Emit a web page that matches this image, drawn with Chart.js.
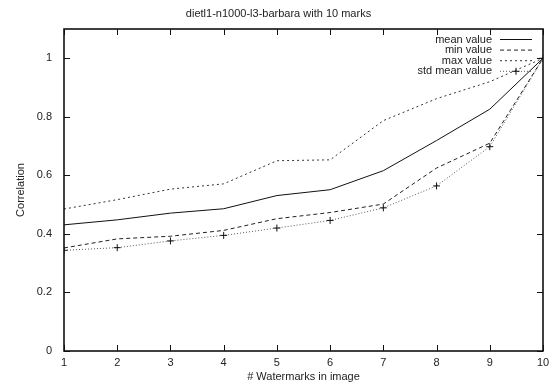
<!DOCTYPE html>
<html>
<head>
<meta charset="utf-8">
<script src="https://cdn.jsdelivr.net/npm/chart.js@4"></script>
<style>
    html, body { margin: 0; padding: 0; background: #fff; }
    #wrap { width: 558px; height: 386px; }
</style>
</head>
<body>
<div id="wrap"><canvas id="chart"></canvas></div>
<script>
// Data
const marks = [1, 2, 3, 4, 5, 6, 7, 8, 9, 10];
const meanValues = [0.431, 0.448, 0.471, 0.486, 0.531, 0.551, 0.616, 0.719, 0.826, 1.0];
const minValues = [0.352, 0.383, 0.392, 0.412, 0.452, 0.473, 0.502, 0.625, 0.71, 1.0];
const maxValues = [0.485, 0.517, 0.553, 0.571, 0.65, 0.653, 0.787, 0.862, 0.92, 1.0];
const stdMeanValues = [0.344, 0.353, 0.376, 0.395, 0.42, 0.446, 0.489, 0.564, 0.698, 1.0];
const yTicks = [0, 0.2, 0.4, 0.6, 0.8, 1];

const FONT = 'Liberation Sans, Arial, sans-serif';
const toPoints = vals => vals.map((v, i) => ({ x: marks[i], y: v }));

// gnuplot style frame: full border with inward ticks on every side
const framePlugin = {
    id: 'frame',
    afterDatasetsDraw(chart) {
        const { ctx, chartArea: a, scales: { x, y } } = chart;
        const len = 6;
        ctx.save();
        ctx.strokeStyle = '#111';
        ctx.lineWidth = 1;
        ctx.beginPath();
        marks.forEach(m => {
            const px = Math.round(x.getPixelForValue(m)) + 0.5;
            ctx.moveTo(px, a.bottom); ctx.lineTo(px, a.bottom - len);
            ctx.moveTo(px, a.top); ctx.lineTo(px, a.top + len);
        });
        yTicks.forEach(t => {
            const py = Math.round(y.getPixelForValue(t)) + 0.5;
            ctx.moveTo(a.left, py); ctx.lineTo(a.left + len, py);
            ctx.moveTo(a.right, py); ctx.lineTo(a.right - len, py);
        });
        ctx.stroke();
        ctx.lineWidth = 1.6;
        ctx.strokeRect(a.left, a.top, a.right - a.left, a.bottom - a.top);
        ctx.restore();
    }
};

// legend inside the plot, text right aligned then the line sample
const keyPlugin = {
    id: 'key',
    afterDatasetsDraw(chart) {
        const { ctx, chartArea: a } = chart;
        const textRight = a.right - 51;
        const lineStart = a.right - 43;
        const lineEnd = a.right - 11;
        ctx.save();
        ctx.font = '11px ' + FONT;
        ctx.textAlign = 'right';
        ctx.textBaseline = 'middle';
        chart.data.datasets.forEach((ds, i) => {
            const yy = a.top + 10.5 + i * 10.6;
            ctx.fillStyle = '#222';
            ctx.fillText(ds.label, textRight, yy);
            ctx.strokeStyle = ds.borderColor;
            ctx.lineWidth = ds.borderWidth;
            ctx.setLineDash(ds.borderDash || []);
            ctx.beginPath();
            ctx.moveTo(lineStart, yy);
            ctx.lineTo(lineEnd, yy);
            ctx.stroke();
            if (ds.pointStyle === 'cross') {
                ctx.setLineDash([]);
                ctx.strokeStyle = ds.pointBorderColor;
                const cx = (lineStart + lineEnd) / 2;
                ctx.beginPath();
                ctx.moveTo(cx - 3.5, yy); ctx.lineTo(cx + 3.5, yy);
                ctx.moveTo(cx, yy - 3.5); ctx.lineTo(cx, yy + 3.5);
                ctx.stroke();
            }
        });
        ctx.restore();
    }
};

new Chart(document.getElementById('chart'), {
    type: 'line',
    data: {
        datasets: [
            {
                label: 'mean value',
                data: toPoints(meanValues),
                borderColor: '#111',
                borderWidth: 1,
                pointRadius: 0
            },
            {
                label: 'min value',
                data: toPoints(minValues),
                borderColor: '#222',
                borderWidth: 1,
                borderDash: [4, 3],
                pointRadius: 0
            },
            {
                label: 'max value',
                data: toPoints(maxValues),
                borderColor: '#333',
                borderWidth: 1,
                borderDash: [2, 3],
                pointRadius: 0
            },
            {
                label: 'std mean value',
                data: toPoints(stdMeanValues),
                borderColor: '#555',
                borderWidth: 1,
                borderDash: [1, 2],
                pointStyle: 'cross',
                pointRadius: 3.5,
                pointBorderColor: '#111',
                pointBorderWidth: 1
            }
        ]
    },
    options: {
        responsive: true,
        maintainAspectRatio: false,
        animation: false,
        devicePixelRatio: 1,
        layout: { padding: { left: 14, right: 15, top: 0, bottom: 2 } },
        plugins: {
            legend: { display: false },
            tooltip: { enabled: false },
            title: {
                display: true,
                text: 'dietl1-n1000-l3-barbara with 10 marks',
                color: '#222',
                font: { family: FONT, size: 11, weight: 'normal' },
                padding: { top: 7.4, bottom: 8.4 }
            }
        },
        scales: {
            x: {
                type: 'linear',
                min: 1,
                max: 10,
                afterFit: s => { s.height = 33; },
                afterBuildTicks: s => { s.ticks = marks.map(v => ({ value: v })); },
                grid: { display: false, drawTicks: false },
                border: { display: false },
                ticks: {
                    color: '#222',
                    padding: 5,
                    maxRotation: 0,
                    font: { family: FONT, size: 11 }
                },
                title: {
                    display: true,
                    text: '# Watermarks in image',
                    color: '#222',
                    font: { family: FONT, size: 11 },
                    padding: 0
                }
            },
            y: {
                min: 0,
                max: 1.1,
                afterFit: s => { s.width = 50; },
                afterBuildTicks: s => { s.ticks = yTicks.map(v => ({ value: v })); },
                grid: { display: false, drawTicks: false },
                border: { display: false },
                ticks: {
                    color: '#222',
                    padding: 12,
                    font: { family: FONT, size: 11 },
                    callback: v => String(v)
                },
                title: {
                    display: true,
                    text: 'Correlation',
                    color: '#222',
                    font: { family: FONT, size: 11 },
                    padding: 0
                }
            }
        }
    },
    plugins: [framePlugin, keyPlugin]
});
</script>
</body>
</html>
